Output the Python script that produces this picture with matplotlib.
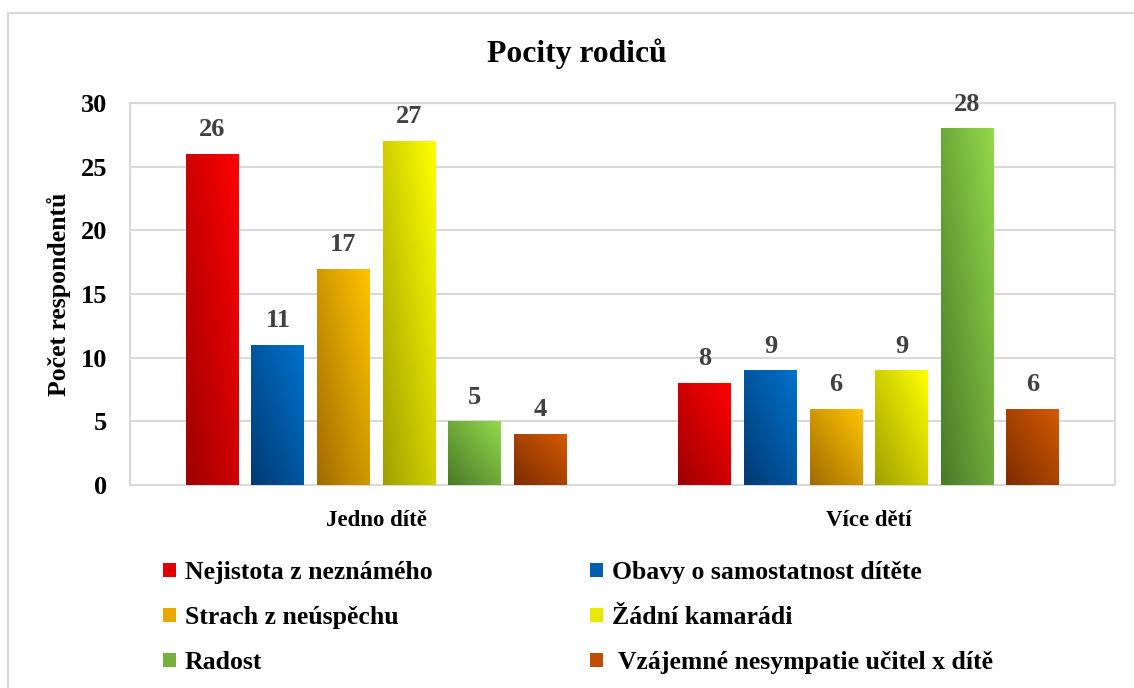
import numpy as np
import matplotlib
matplotlib.use("Agg")
import matplotlib.pyplot as plt
from matplotlib.colors import LinearSegmentedColormap
from matplotlib.patches import Rectangle, Patch

categories = ["Jedno dítě", "Více dětí"]
series = ["Nejistota z neznámého", "Obavy o samostatnost dítěte",
          "Strach z neúspěchu", "Žádní kamarádi",
          "Radost", " Vzájemné nesympatie učitel x dítě"]
values = [
    [26, 8],
    [11, 9],
    [17, 6],
    [27, 9],
    [5, 28],
    [4, 6],
]
dark_colors = ["#9E0000", "#003A73", "#A06C00", "#A0A000", "#4A7A28", "#7E2C00"]
bright_colors = ["#FF0000", "#0072CC", "#FFC400", "#FFFF00", "#92D84A", "#D25A00"]
mid_colors = ["#E00000", "#0060B0", "#E8A800", "#E8E800", "#78B040", "#C04E00"]

plt.rcParams['font.family'] = ['Liberation Serif', 'DejaVu Serif']
plt.rcParams['font.weight'] = 'bold'

W, H = 1134, 688
fig = plt.figure(figsize=(W / 100, H / 100), dpi=100)
L, R, T, B = 130, 1115, 103, 485
ax = fig.add_axes([L / W, 1 - B / H, (R - L) / W, (B - T) / H])

x = np.arange(len(categories))
step = 0.133
width = 0.1076
n = len(series)

gx, gy = np.meshgrid(np.linspace(0, 1, 50), np.linspace(0, 1, 50))
grad = (gx + gy) / 2.0

for i, (name, vals) in enumerate(zip(series, values)):
    pos = x + (i - (n - 1) / 2) * step
    bars = ax.bar(pos, vals, width=width, color=mid_colors[i], zorder=2, linewidth=0)
    cmap = LinearSegmentedColormap.from_list(f"g{i}", [dark_colors[i], bright_colors[i]])
    for b, v in zip(bars, vals):
        x0 = b.get_x()
        im = ax.imshow(grad, origin='lower', cmap=cmap, vmin=0, vmax=1,
                       extent=[x0, x0 + b.get_width(), 0, v], aspect='auto',
                       interpolation='bilinear', zorder=3)
        im.set_clip_path(b)
        ax.annotate(str(v), (b.get_x() + b.get_width() / 2, v),
                    xytext=(0, 17.5), textcoords='offset points',
                    ha='center', va='center', fontsize=19, fontweight='bold',
                    color='#404040', zorder=4)

ax.set_xlim(-0.5, len(categories) - 0.5)
ax.set_ylim(0, 30)
ax.set_aspect('auto')
ax.set_yticks(range(0, 31, 5))
ax.set_xticks(x)
ax.set_xticklabels(categories, fontsize=16.5, fontweight='bold')
ax.tick_params(axis='y', labelsize=19, length=0, pad=16.5)
ax.tick_params(axis='x', length=0, pad=18)
for lbl in ax.get_yticklabels():
    lbl.set_fontweight('bold')
ax.yaxis.grid(True, color='#D9D9D9', linewidth=1.5, zorder=0)
ax.set_axisbelow(True)
for s in ax.spines.values():
    s.set_color('#D9D9D9')
    s.set_linewidth(1.5)

ax.set_ylabel("Počet respondentů", fontsize=18.5, fontweight='bold')
ax.yaxis.label.set_verticalalignment('center')
ax.yaxis.set_label_coords((59 - L) / (R - L), 0.5)

fig.text(577 / W, 1 - 54 / H, "Pocity rodiců", ha='center', va='center',
         fontsize=22.8, fontweight='bold')

handles = [Patch(facecolor=mid_colors[i], edgecolor='none') for i in range(n)]
order = [0, 2, 4, 1, 3, 5]
leg = fig.legend([handles[k] for k in order], [series[k] for k in order],
                 ncol=2, loc='upper left', bbox_to_anchor=(163 / W, 1 - 561 / H),
                 frameon=False, handlelength=0.5, handleheight=0.5,
                 handletextpad=0.35, columnspacing=6.15, labelspacing=0.86,
                 borderpad=0, borderaxespad=0,
                 prop={'weight': 'bold', 'size': 18.5})

fig.patches.append(Rectangle((8 / W, -0.1), 1.2, 1.1 - 13 / H,
                             transform=fig.transFigure, fill=False,
                             edgecolor='#D9D9D9', linewidth=1.5))

fig.savefig("out.png", dpi=100)
